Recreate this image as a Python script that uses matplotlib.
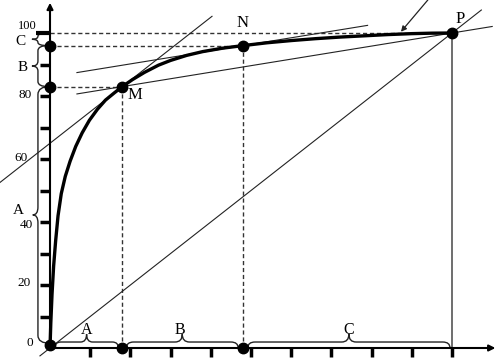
import numpy as np
import matplotlib.pyplot as plt
from matplotlib.path import Path
from matplotlib.patches import PathPatch

# cumulative curve (x = % of items, y = % of value)
curve_x = [0, 0.2, 0.5, 0.9, 1.4, 2.0, 2.8, 3.8, 5.0, 6.4, 8.0, 9.8, 11.8, 13.8, 16.0, 18.0,
           20.5, 23.5, 27, 30, 34, 38, 43, 48, 54, 60, 66, 72, 78, 84, 90, 95, 100]
curve_y = [0, 8, 17, 26, 34, 42, 49, 54.5, 59.3, 64, 68.3, 72.3, 75.8, 78.7, 81.0, 83.0,
           85.2, 87.5, 89.8, 91.3, 92.9, 94.1, 95.2, 96.0, 96.9, 97.6, 98.2, 98.7, 99.1, 99.5, 99.8, 99.95, 100]

M = (18, 83)
N = (48, 96)
P = (100, 100)

x_ticks = [10, 20, 30, 40, 50, 60, 70, 80, 90, 100]
y_ticks = [10, 20, 30, 40, 50, 60, 70, 80, 90]
y_labels = ["0", "20", "40", "60", "80", "100"]
y_label_vals = [0, 20, 40, 60, 80, 100]

plt.rcParams['font.family'] = ['Liberation Serif', 'DejaVu Serif']

fig = plt.figure(figsize=(5.01, 3.60), dpi=100)
ax = fig.add_axes([0, 0, 1, 1])
ax.set_xlim(-12.44, 112.19)
ax.set_ylim(-3.81, 110.48)
ax.axis('off')

dash = dict(color='#333333', lw=1.0, linestyle=(0, (3, 2)))
thin = dict(color='#222222', lw=0.8)

# axes with arrows
ax.annotate('', xy=(0, 109.6), xytext=(0, 0),
            arrowprops=dict(arrowstyle='-|>', lw=1.5, color='black', mutation_scale=9, shrinkA=0, shrinkB=0))
ax.annotate('', xy=(110.8, 0), xytext=(0, 0),
            arrowprops=dict(arrowstyle='-|>', lw=1.5, color='black', mutation_scale=9, shrinkA=0, shrinkB=0))

# ticks
for t in x_ticks:
    ax.plot([t, t], [0, -2.9], color='black', lw=2.5, solid_capstyle='butt')
for t in y_ticks:
    ax.plot([-2.5, 0], [t, t], color='black', lw=2.5, solid_capstyle='butt')
ax.plot([-3.5, 0], [100, 100], color='black', lw=3, solid_capstyle='butt')

# tick labels sit a bit unevenly in the original
lab_dx = [-5.0, -6.4, -5.8, -7.2, -6.2, -5.6]
lab_dy = [1.5, 0.5, -0.8, 0.3, 0.3, 2.2]
for s, v, dx, dy in zip(y_labels, y_label_vals, lab_dx, lab_dy):
    ax.text(dx, v + dy, s, fontsize=9 if s == "100" else 9.5, ha='center', va='center')

# guide lines
ax.plot([0, M[0]], [M[1], M[1]], **dash)
ax.plot([0, N[0]], [N[1], N[1]], **dash)
ax.plot([0, P[0]], [P[1], P[1]], **dash)
ax.plot([M[0], M[0]], [0, M[1]], **dash)
ax.plot([N[0], N[0]], [0, N[1]], **dash)
ax.plot([P[0], P[0]], [0, P[1]], color='#555555', lw=1.2)

# diagonal and tangents
xd = np.array([-2.5, 107.3])
ax.plot(xd, xd, **thin)
xt = np.array([-12.4, 40.3])
ax.plot(xt, M[1] + (xt - M[0]), **thin)
k = (P[1] - M[1]) / (P[0] - M[0])
xm = np.array([6.7, 110])
ax.plot(xm, M[1] + k * (xm - M[0]), **thin)
xn = np.array([6.7, 79])
ax.plot(xn, N[1] + k * (xn - N[0]), **thin)

# curve
ax.plot(curve_x, curve_y, color='black', lw=2.4, solid_capstyle='round')

# points
pts_x = [0, M[0], N[0], P[0], M[0], N[0], 0, 0]
pts_y = [1, M[1], N[1], P[1], 0, 0, M[1], N[1]]
ax.plot(pts_x, pts_y, 'o', color='black', markersize=7.5, zorder=5)

ax.text(M[0] + 3.2, M[1] - 2.7, 'M', fontsize=12, ha='center', va='center')
ax.text(N[0], N[1] + 7.3, 'N', fontsize=12, ha='center', va='center')
ax.text(P[0] + 2, P[1] + 4.3, 'P', fontsize=12, ha='center', va='center')

ax.annotate('', xy=(87.3, 100.4), xytext=(94, 110.5),
            arrowprops=dict(arrowstyle='-|>', lw=0.9, color='#222222', mutation_scale=8, shrinkA=0, shrinkB=0))


def brace_v(y1, y2, x0, xs, xtip, r):
    ym = (y1 + y2) / 2
    verts = [(x0, y1), (xs, y1), (xs, y1 + r), (xs, ym - r), (xs, ym), (xtip, ym),
             (xs, ym), (xs, ym + r), (xs, y2 - r), (xs, y2), (x0, y2)]
    codes = [Path.MOVETO, Path.CURVE3, Path.CURVE3, Path.LINETO, Path.CURVE3, Path.CURVE3,
             Path.CURVE3, Path.CURVE3, Path.LINETO, Path.CURVE3, Path.CURVE3]
    ax.add_patch(PathPatch(Path(verts, codes), fill=False, lw=1.0, color='#222222'))
    return ym


def brace_h(x1, x2, y0, ys, ytip, r):
    xm = (x1 + x2) / 2
    verts = [(x1, y0), (x1, ys), (x1 + r, ys), (xm - r, ys), (xm, ys), (xm, ytip),
             (xm, ys), (xm + r, ys), (x2 - r, ys), (x2, ys), (x2, y0)]
    codes = [Path.MOVETO, Path.CURVE3, Path.CURVE3, Path.LINETO, Path.CURVE3, Path.CURVE3,
             Path.CURVE3, Path.CURVE3, Path.LINETO, Path.CURVE3, Path.CURVE3]
    ax.add_patch(PathPatch(Path(verts, codes), fill=False, lw=1.0, color='#222222'))
    return xm


# left braces
brace_v(N[1], 100, -0.5, -3.0, -4.5, 1.0)
ax.text(-7.4, 97.3, 'C', fontsize=11, ha='center', va='center')
brace_v(M[1], N[1], -0.5, -3.0, -4.5, 1.6)
ax.text(-6.8, 89.2, 'B', fontsize=11, ha='center', va='center')
brace_v(1.5, M[1], 0, -3.0, -4.3, 2.5)
ax.text(-7.8, 43.8, 'A', fontsize=11, ha='center', va='center')

# bottom braces
brace_h(1.2, 17, 0, 1.9, 4.4, 1.5)
ax.text(9.1, 5.8, 'A', fontsize=11.5, ha='center', va='center')
brace_h(19, 46.8, 0, 1.9, 4.4, 1.8)
ax.text(32.2, 5.8, 'B', fontsize=11.5, ha='center', va='center')
brace_h(49.2, 99.5, 0, 1.9, 4.4, 1.8)
ax.text(74.2, 5.8, 'C', fontsize=11.5, ha='center', va='center')

fig.savefig('out.png', dpi=100)
